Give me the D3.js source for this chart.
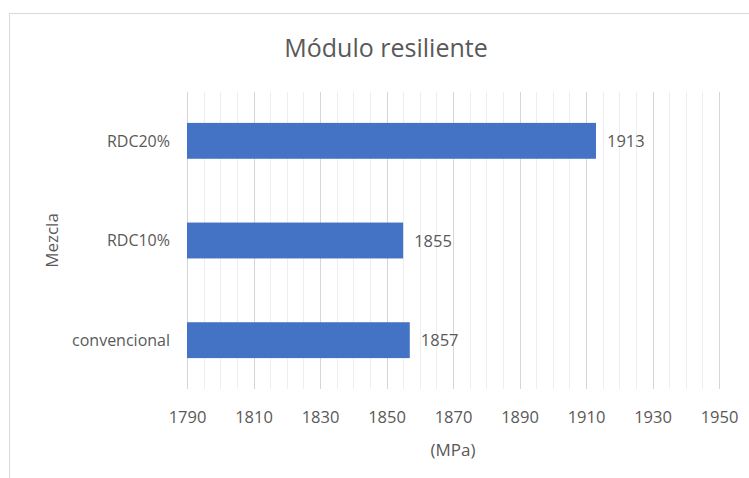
<!DOCTYPE html>
<html>
<head>
<meta charset="utf-8">
<script src="https://cdn.jsdelivr.net/npm/d3@7"></script>
<style>
  html, body { margin: 0; padding: 0; background: #ffffff; }
  svg { display: block; }
  text { font-family: "Open Sans", sans-serif; fill: #595959; }
</style>
</head>
<body>
<svg id="chart" width="749" height="478"></svg>
<script>
// ---- data ----
const categories = ["RDC20%", "RDC10%", "convencional"];
const values = [1913, 1855, 1857];
const labels = ["1913", "1855", "1857"];
const majorTicks = [1790, 1810, 1830, 1850, 1870, 1890, 1910, 1930, 1950];
const titleText = "Módulo resiliente";
const xTitle = "(MPa)";
const yTitle = "Mezcla";

const svg = d3.select("#chart");

// chart area border (extends past right/bottom edge)
svg.append("rect")
  .attr("x", 9.5).attr("y", 13.5)
  .attr("width", 760).attr("height", 480)
  .attr("fill", "#ffffff")
  .attr("stroke", "#d9d9d9").attr("stroke-width", 1);

const plot = { left: 187, right: 719, top: 92, bottom: 389 };

const x = d3.scaleLinear().domain([1790, 1950]).range([plot.left, plot.right]);
const y = d3.scaleBand().domain(categories).range([plot.top, plot.bottom])
  .paddingInner(0.64).paddingOuter(0.31);

// minor gridlines every 5
const minor = d3.range(1790, 1950.1, 5).filter(v => (v - 1790) % 20 !== 0);
svg.append("g").selectAll("line").data(minor).join("line")
  .attr("x1", d => Math.round(x(d)) + 0.5).attr("x2", d => Math.round(x(d)) + 0.5)
  .attr("y1", plot.top).attr("y2", plot.bottom)
  .attr("stroke", "#eeeeee").attr("stroke-width", 1);

// major gridlines
svg.append("g").selectAll("line").data(majorTicks).join("line")
  .attr("x1", d => Math.round(x(d)) + 0.5).attr("x2", d => Math.round(x(d)) + 0.5)
  .attr("y1", plot.top).attr("y2", plot.bottom)
  .attr("stroke", "#d6d6d6").attr("stroke-width", 1);

// bars
svg.append("g").selectAll("rect").data(categories).join("rect")
  .attr("x", x(1790))
  .attr("y", d => y(d))
  .attr("width", (d, i) => x(values[i]) - x(1790))
  .attr("height", y.bandwidth())
  .attr("fill", "#4472c4");

// data labels
svg.append("g").selectAll("text").data(categories).join("text")
  .attr("x", (d, i) => x(values[i]) + 11)
  .attr("y", d => y(d) + y.bandwidth() / 2 + 6)
  .attr("font-size", 16.5)
  .text((d, i) => labels[i]);

// x axis tick labels
const xAxis = d3.axisBottom(x).tickValues(majorTicks).tickSize(0).tickFormat(d3.format("d"));
const gx = svg.append("g").attr("transform", `translate(0,${plot.bottom})`).call(xAxis);
gx.select(".domain").remove();
gx.selectAll("text")
  .attr("y", 34).attr("dy", null)
  .attr("font-size", 16.5)
  .attr("font-family", "Open Sans, sans-serif")
  .attr("fill", "#595959");

// y axis category labels
const yAxis = d3.axisLeft(y).tickSize(0);
const gy = svg.append("g").attr("transform", `translate(${plot.left},0)`).call(yAxis);
gy.select(".domain").remove();
gy.selectAll("text")
  .attr("x", -17).attr("dy", "0.36em")
  .attr("font-size", 16)
  .attr("font-family", "Open Sans, sans-serif")
  .attr("fill", "#595959");

// title
svg.append("text")
  .attr("x", 386).attr("y", 57)
  .attr("text-anchor", "middle")
  .attr("font-size", 25)
  .text(titleText);

// x axis title
svg.append("text")
  .attr("x", (plot.left + plot.right) / 2).attr("y", 456)
  .attr("text-anchor", "middle")
  .attr("font-size", 17)
  .text(xTitle);

// y axis title
svg.append("text")
  .attr("transform", `translate(58,${(plot.top + plot.bottom) / 2}) rotate(-90)`)
  .attr("text-anchor", "middle")
  .attr("font-size", 17)
  .text(yTitle);
</script>
</body>
</html>
